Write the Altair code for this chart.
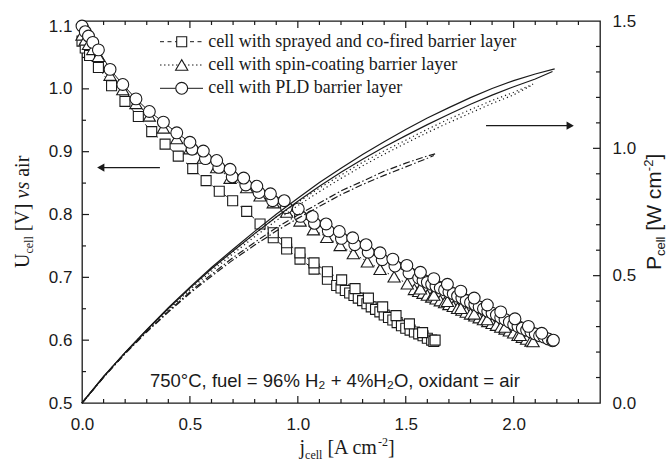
import altair as alt
import pandas as pd

# ---------------- data ----------------
# U-j, cell with sprayed and co-fired barrier layer (squares)
SQ_A_J = [0.0, 0.015, 0.035, 0.076, 0.137, 0.199, 0.261, 0.323, 0.385, 0.446, 0.513, 0.575, 0.636, 0.698,
          0.763, 0.825, 0.886, 0.948, 1.010, 1.075, 1.137, 1.203, 1.265, 1.327, 1.393, 1.455, 1.517, 1.578, 1.636]
SQ_A_U = [1.076, 1.065, 1.053, 1.034, 1.005, 0.980, 0.956, 0.932, 0.912, 0.893, 0.873, 0.854, 0.837, 0.822,
          0.805, 0.785, 0.771, 0.755, 0.739, 0.723, 0.709, 0.696, 0.682, 0.667, 0.653, 0.639, 0.626, 0.612, 0.600]
SQ_B_J = [0.886, 0.948, 1.010, 1.075, 1.137, 1.18, 1.20, 1.22, 1.24, 1.26, 1.28, 1.30, 1.32, 1.34, 1.36, 1.38,
          1.40, 1.42, 1.44, 1.46, 1.48, 1.50, 1.52, 1.54, 1.56, 1.58, 1.60, 1.62, 1.63]
SQ_B_U = [0.763, 0.745, 0.729, 0.713, 0.697, 0.687, 0.683, 0.679, 0.675, 0.671, 0.667, 0.663, 0.658, 0.653, 0.649,
          0.645, 0.640, 0.636, 0.632, 0.628, 0.623, 0.619, 0.616, 0.613, 0.610, 0.607, 0.603, 0.600, 0.598]

# U-j, cell with spin-coating barrier layer (triangles)
TR_A_J = [0.0, 0.015, 0.03, 0.05, 0.076, 0.13, 0.189, 0.25, 0.312, 0.377, 0.439, 0.50, 0.562, 0.624, 0.686,
          0.763, 0.825, 0.886, 0.948, 1.01, 1.072, 1.134, 1.196, 1.257, 1.322, 1.381, 1.446, 1.507, 1.568,
          1.63, 1.693, 1.755, 1.817, 1.878, 1.96, 2.03, 2.09]
TR_A_U = [1.086, 1.078, 1.071, 1.063, 1.052, 1.022, 0.999, 0.977, 0.957, 0.938, 0.921, 0.905, 0.890, 0.875, 0.858,
          0.843, 0.830, 0.819, 0.804, 0.790, 0.776, 0.764, 0.751, 0.738, 0.725, 0.713, 0.701, 0.690, 0.682,
          0.672, 0.662, 0.651, 0.642, 0.633, 0.621, 0.608, 0.598]
TR_B_J = [1.54, 1.56, 1.58, 1.60, 1.62, 1.64, 1.66, 1.68, 1.70, 1.72, 1.74, 1.76, 1.78, 1.80, 1.82, 1.84,
          1.86, 1.88, 1.90, 1.92, 1.94, 1.96, 1.98, 2.00, 2.02, 2.04, 2.06, 2.08]
TR_B_U = [0.681, 0.678, 0.675, 0.672, 0.669, 0.666, 0.663, 0.660, 0.657, 0.654, 0.651, 0.648, 0.645, 0.642,
          0.639, 0.636, 0.633, 0.630, 0.627, 0.624, 0.621, 0.618, 0.615, 0.612, 0.608, 0.605, 0.602, 0.599]

# U-j, cell with PLD barrier layer (circles)
CI_A_J = [0.0, 0.015, 0.03, 0.05, 0.076, 0.13, 0.189, 0.25, 0.312, 0.377, 0.439, 0.50, 0.562, 0.624, 0.686,
          0.749, 0.81, 0.873, 0.937, 1.002, 1.067, 1.131, 1.192, 1.254, 1.316, 1.381, 1.44, 1.505, 1.568,
          1.63, 1.693, 1.755, 1.817, 1.878, 1.94, 2.006, 2.068, 2.13, 2.184]
CI_A_U = [1.100, 1.091, 1.084, 1.074, 1.062, 1.031, 1.007, 0.984, 0.964, 0.947, 0.930, 0.915, 0.901, 0.886, 0.872,
          0.858, 0.845, 0.833, 0.822, 0.809, 0.797, 0.785, 0.773, 0.763, 0.752, 0.739, 0.729, 0.719, 0.708,
          0.698, 0.689, 0.678, 0.667, 0.656, 0.645, 0.634, 0.622, 0.611, 0.600]
CI_B_J = [0.51, 0.572, 0.634, 0.696, 0.759, 0.82, 0.883, 0.947, 1.012, 1.077, 1.141, 1.202, 1.264, 1.326, 1.391,
          1.45, 1.515, 1.56, 1.58, 1.60, 1.62, 1.64, 1.66, 1.68, 1.70, 1.72, 1.74, 1.76, 1.78, 1.80, 1.82,
          1.84, 1.86, 1.88, 1.90, 1.92, 1.94, 1.96, 1.98, 2.00, 2.02, 2.04, 2.06, 2.08, 2.10, 2.12, 2.14,
          2.16, 2.18]
CI_B_U = [0.904, 0.889, 0.875, 0.860, 0.847, 0.835, 0.822, 0.811, 0.797, 0.786, 0.774, 0.762, 0.752, 0.740, 0.728,
          0.718, 0.707, 0.699, 0.695, 0.692, 0.689, 0.686, 0.683, 0.680, 0.677, 0.674, 0.670, 0.667, 0.663, 0.660,
          0.657, 0.653, 0.650, 0.646, 0.643, 0.640, 0.636, 0.633, 0.629, 0.625, 0.622, 0.619, 0.616, 0.613,
          0.610, 0.607, 0.605, 0.602, 0.599]

# P-j curves (two sweeps each)
PLD_A_J = [0, 0.1, 0.2, 0.3, 0.4, 0.5, 0.6, 0.7, 0.8, 0.9, 1.0, 1.1, 1.2, 1.3, 1.4, 1.5, 1.6, 1.7, 1.8, 1.9, 2.0, 2.1, 2.19]
PLD_A_P = [0, 0.104, 0.199, 0.288, 0.374, 0.455, 0.532, 0.604, 0.674, 0.741, 0.804, 0.866, 0.922, 0.976, 1.026,
           1.074, 1.119, 1.160, 1.199, 1.235, 1.266, 1.292, 1.312]
PLD_B_J = [0, 0.1, 0.2, 0.3, 0.4, 0.5, 0.6, 0.7, 0.8, 0.9, 1.0, 1.1, 1.2, 1.3, 1.4, 1.5, 1.6, 1.7, 1.8, 1.9, 2.0, 2.1, 2.18]
PLD_B_P = [0, 0.104, 0.198, 0.286, 0.371, 0.451, 0.527, 0.597, 0.665, 0.730, 0.792, 0.851, 0.906, 0.957, 1.005,
           1.050, 1.093, 1.134, 1.173, 1.209, 1.242, 1.272, 1.302]
SPIN_A_J = [0, 0.1, 0.2, 0.3, 0.4, 0.5, 0.6, 0.7, 0.8, 0.9, 1.0, 1.1, 1.2, 1.3, 1.4, 1.5, 1.6, 1.7, 1.8, 1.9, 2.0, 2.09]
SPIN_A_P = [0, 0.103, 0.198, 0.286, 0.370, 0.450, 0.525, 0.595, 0.664, 0.730, 0.788, 0.844, 0.895, 0.945, 0.990,
            1.032, 1.075, 1.115, 1.152, 1.188, 1.220, 1.252]
SPIN_B_J = [0, 0.1, 0.2, 0.3, 0.4, 0.5, 0.6, 0.7, 0.8, 0.9, 1.0, 1.1, 1.2, 1.3, 1.4, 1.5, 1.6, 1.7, 1.8, 1.9, 2.0, 2.08]
SPIN_B_P = [0, 0.102, 0.196, 0.283, 0.365, 0.444, 0.517, 0.586, 0.653, 0.716, 0.775, 0.830, 0.882, 0.931, 0.977,
            1.020, 1.062, 1.101, 1.139, 1.176, 1.210, 1.246]
SPR_A_J = [0, 0.1, 0.2, 0.3, 0.4, 0.5, 0.6, 0.7, 0.8, 0.9, 1.0, 1.1, 1.2, 1.3, 1.4, 1.5, 1.6, 1.636]
SPR_A_P = [0, 0.101, 0.195, 0.281, 0.360, 0.436, 0.505, 0.571, 0.631, 0.688, 0.738, 0.785, 0.833, 0.871, 0.910,
           0.942, 0.970, 0.978]
SPR_B_J = [0, 0.1, 0.2, 0.3, 0.4, 0.5, 0.6, 0.7, 0.8, 0.9, 1.0, 1.1, 1.2, 1.3, 1.4, 1.5, 1.6, 1.63]
SPR_B_P = [0, 0.101, 0.194, 0.279, 0.357, 0.431, 0.498, 0.562, 0.620, 0.675, 0.725, 0.772, 0.818, 0.858, 0.894,
           0.927, 0.961, 0.972]

# axis ticks / labels
X_LABELS = [0.0, 0.5, 1.0, 1.5, 2.0]
X_MAJOR = [0.5, 1.0, 1.5, 2.0]
X_MINOR = [0.1, 0.2, 0.3, 0.4, 0.6, 0.7, 0.8, 0.9, 1.1, 1.2, 1.3, 1.4, 1.6, 1.7, 1.8, 1.9, 2.1, 2.2, 2.3]
U_LABELS = [0.5, 0.6, 0.7, 0.8, 0.9, 1.0, 1.1]
U_MAJOR = [0.6, 0.7, 0.8, 0.9, 1.0, 1.1]
U_MINOR = [0.55, 0.65, 0.75, 0.85, 0.95, 1.05]
P_LABELS = [0.0, 0.5, 1.0, 1.5]
P_MAJOR = [0.5, 1.0]
P_MINOR = [0.1, 0.2, 0.3, 0.4, 0.6, 0.7, 0.8, 0.9, 1.1, 1.2, 1.3, 1.4]

LEGEND = ["cell with sprayed and co-fired barrier layer",
          "cell with spin-coating barrier layer",
          "cell with PLD barrier layer"]
NOTE = "750°C, fuel = 96% H₂ + 4%H₂O, oxidant = air"

# arrows (data coordinates)
ARROW_L_J = [0.08, 0.361]
ARROW_L_U = 0.8747
ARROW_R_J = [1.872, 2.262]
ARROW_R_P = 1.089

# ---------------- styling ----------------
W, H = 518, 382
XDOM = [0, 2.4]
UDOM = [0.5, 1.108]
PDOM = [0, 1.5]
INK = "#1a1a1a"
SANS = "Liberation Sans"
SERIF = "Liberation Serif"

lab = dict(labelFont=SANS, labelFontSize=17, labelColor=INK, ticks=False, domain=False, grid=False,
           title=None, format=".1f", labelFlush=False)
X_AXIS = alt.Axis(orient="bottom", values=X_LABELS, labelPadding=13, **lab)
U_AXIS = alt.Axis(orient="left", values=U_LABELS, labelPadding=10, **lab)
P_AXIS = alt.Axis(orient="right", values=P_LABELS, labelPadding=12, **lab)


def xq(field="j"):
    return alt.X(f"{field}:Q", scale=alt.Scale(domain=XDOM, nice=False, zero=False), axis=X_AXIS)


def uq(field="u", axis=None):
    return alt.Y(f"{field}:Q", scale=alt.Scale(domain=UDOM, nice=False, zero=False), axis=axis)


def pq(field="p", axis=None):
    return alt.Y(f"{field}:Q", scale=alt.Scale(domain=PDOM, nice=False, zero=False), axis=axis)


def ulines(j, u, dash):
    kw = dict(color=INK, strokeWidth=1.0)
    if dash:
        kw["strokeDash"] = dash
    return alt.Chart(pd.DataFrame({"j": j, "u": u})).mark_line(**kw).encode(x=xq(), y=uq())


def marks(j, u, shape, size, yaxis=None):
    return alt.Chart(pd.DataFrame({"j": j, "u": u})).mark_point(
        shape=shape, size=size, filled=True, fill="white", stroke=INK, strokeWidth=1.1, opacity=1
    ).encode(x=xq(), y=uq(axis=yaxis))


def plines(j, p, dash, yaxis=None):
    kw = dict(color=INK, strokeWidth=1.2)
    if dash:
        kw["strokeDash"] = dash
    return alt.Chart(pd.DataFrame({"j": j, "p": p})).mark_line(**kw).encode(x=xq(), y=pq(axis=yaxis))


def txt(s, x, y, size, font, angle=0, style="normal", baseline="alphabetic"):
    kw = dict(text=s, fontSize=size, font=font, color=INK, align="left", baseline=baseline)
    if angle:
        kw["angle"] = angle
    if style != "normal":
        kw["fontStyle"] = style
    return alt.Chart(pd.DataFrame({"k": [0]})).mark_text(**kw).encode(x=alt.value(x), y=alt.value(y))


layers = []


def xticks(vals, y0, y1):
    return alt.Chart(pd.DataFrame({"j": vals})).mark_rule(color=INK, strokeWidth=1.2).encode(
        x=xq(), y=alt.value(y0), y2=alt.value(y1))


# ticks pointing inward on all four sides
layers += [xticks(X_MAJOR, H, H - 7), xticks(X_MINOR, H, H - 4),
           xticks(X_MAJOR, 0, 7), xticks(X_MINOR, 0, 4)]
layers.append(alt.Chart(pd.DataFrame({"u": U_MAJOR})).mark_rule(color=INK, strokeWidth=1.2).encode(
    y=uq(axis=U_AXIS), x=alt.value(0), x2=alt.value(7)))
layers.append(alt.Chart(pd.DataFrame({"u": U_MINOR})).mark_rule(color=INK, strokeWidth=1.2).encode(
    y=uq(), x=alt.value(0), x2=alt.value(4)))
layers.append(alt.Chart(pd.DataFrame({"p": P_MAJOR})).mark_rule(color=INK, strokeWidth=1.2).encode(
    y=pq(axis=P_AXIS), x=alt.value(W), x2=alt.value(W - 7)))
layers.append(alt.Chart(pd.DataFrame({"p": P_MINOR})).mark_rule(color=INK, strokeWidth=1.2).encode(
    y=pq(), x=alt.value(W), x2=alt.value(W - 4)))

# U-j connecting lines
layers += [ulines(SQ_A_J, SQ_A_U, [4, 3]), ulines(SQ_B_J, SQ_B_U, [4, 3]),
           ulines(TR_A_J, TR_A_U, [1.5, 2.5]), ulines(TR_B_J, TR_B_U, [1.5, 2.5]),
           ulines(CI_A_J, CI_A_U, None), ulines(CI_B_J, CI_B_U, None)]

# markers
layers += [marks(SQ_B_J, SQ_B_U, "square", 100),
           marks(SQ_A_J, SQ_A_U, "square", 100),
           marks(TR_B_J, TR_B_U, "triangle-up", 150),
           marks(TR_A_J, TR_A_U, "triangle-up", 150),
           marks(CI_B_J, CI_B_U, "circle", 140),
           marks(CI_A_J, CI_A_U, "circle", 140)]

# P-j curves
layers += [plines(PLD_A_J, PLD_A_P, None), plines(PLD_B_J, PLD_B_P, None),
           plines(SPIN_A_J, SPIN_A_P, [1.2, 3]), plines(SPIN_B_J, SPIN_B_P, [1.2, 3]),
           plines(SPR_A_J, SPR_A_P, [7, 2.5, 1.5, 2.5]), plines(SPR_B_J, SPR_B_P, [7, 2.5, 1.5, 2.5])]

# arrows
layers.append(alt.Chart(pd.DataFrame({"j": [ARROW_L_J[0]], "j2": [ARROW_L_J[1]], "u": [ARROW_L_U]}))
              .mark_rule(color=INK, strokeWidth=1.2).encode(x=xq(), x2="j2:Q", y=uq()))
layers.append(alt.Chart(pd.DataFrame({"j": [ARROW_L_J[0] + 0.007], "u": [ARROW_L_U]}))
              .mark_point(shape="triangle-left", size=70, filled=True, color=INK, opacity=1)
              .encode(x=xq(), y=uq()))
layers.append(alt.Chart(pd.DataFrame({"j": [ARROW_R_J[0]], "j2": [ARROW_R_J[1]], "p": [ARROW_R_P]}))
              .mark_rule(color=INK, strokeWidth=1.2).encode(x=xq(), x2="j2:Q", y=pq()))
layers.append(alt.Chart(pd.DataFrame({"j": [ARROW_R_J[1]], "p": [ARROW_R_P]}))
              .mark_point(shape="triangle-right", size=70, filled=True, color=INK, opacity=1)
              .encode(x=xq(), y=pq()))

# legend
rows_y = [20.7, 44.0, 67.3]
dashes = [[4, 3.5], [1.5, 2.5], None]
shapes = [("square", 100), ("triangle-up", 150), ("circle", 140)]
for i in range(3):
    kw = dict(color=INK, strokeWidth=1.0)
    if dashes[i]:
        kw["strokeDash"] = dashes[i]
    layers.append(alt.Chart(pd.DataFrame({"k": [0]})).mark_rule(**kw).encode(
        x=alt.value(78), x2=alt.value(121), y=alt.value(rows_y[i])))
    layers.append(alt.Chart(pd.DataFrame({"k": [0]})).mark_point(
        shape=shapes[i][0], size=shapes[i][1], filled=True, fill="white", stroke=INK,
        strokeWidth=1.1, opacity=1).encode(x=alt.value(99.7), y=alt.value(rows_y[i])))
    layers.append(txt(LEGEND[i], 126.3, rows_y[i], 18, SERIF, baseline="middle"))

# condition note
layers.append(txt(NOTE, 68, 366, 18.5, SANS))

# axis titles
layers += [txt("U", -53, 247, 20, SERIF, angle=270),
           txt("cell", -49, 232.6, 12, SERIF, angle=270),
           txt("[V]", -53, 210.3, 20, SERIF, angle=270),
           txt("vs", -53, 177.5, 20, SERIF, angle=270, style="italic"),
           txt("air", -53, 155.8, 20, SERIF, angle=270)]
layers += [txt("j", 217.5, 433, 20, SERIF),
           txt("cell", 223.1, 438, 12, SERIF),
           txt("[A cm", 245.4, 433, 20, SERIF),
           txt("-2", 295.9, 425, 12, SERIF),
           txt("]", 305.9, 433, 20, SERIF)]
layers += [txt("P", 579, 249, 21, SANS, angle=270),
           txt("cell", 583, 235, 13, SANS, angle=270),
           txt("[W cm", 579, 209.7, 21, SANS, angle=270),
           txt("-2", 571, 150.2, 13, SANS, angle=270),
           txt("]", 579, 138.6, 21, SANS, angle=270)]

chart = alt.layer(*layers).resolve_scale(y="independent").properties(
    width=W, height=H,
    autosize=alt.AutoSizeParams(type="none"),
    padding={"left": 82, "top": 21, "right": 69, "bottom": 59},
    background="white",
).configure_view(stroke=INK, strokeWidth=1.3)

chart.save("out.html", embed_options={"renderer": "svg", "actions": False})
